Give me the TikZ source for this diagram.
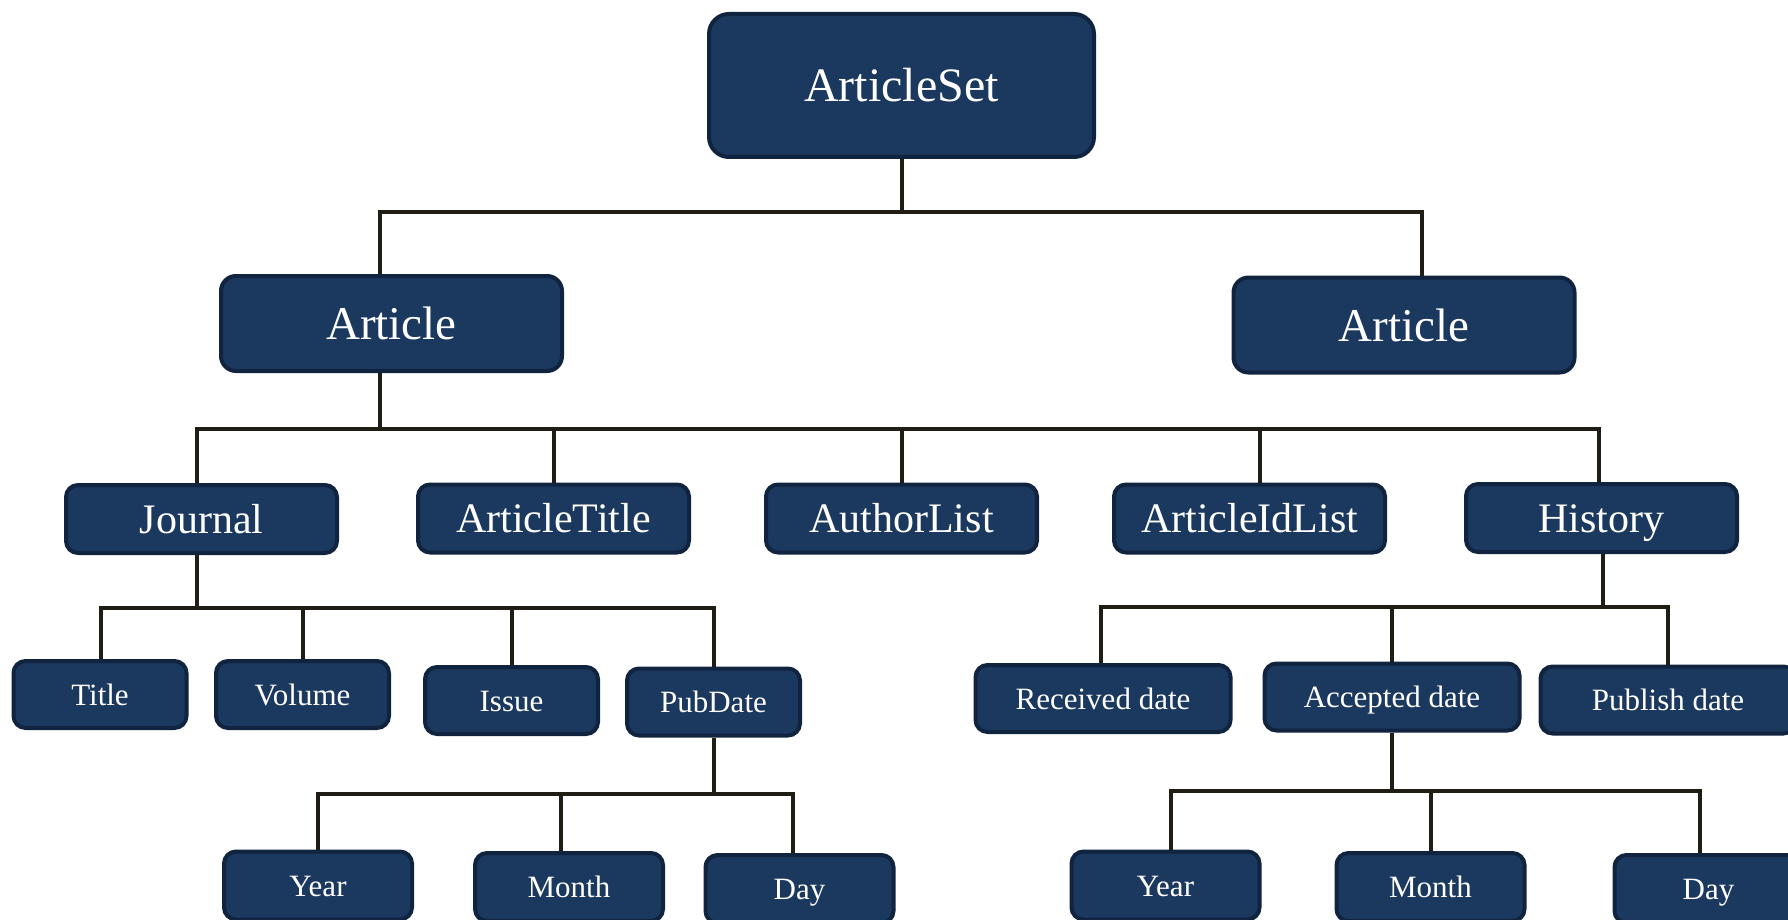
\documentclass[tikz,border=0pt]{standalone}
\usepackage{fontspec}
\setmainfont{Liberation Serif}

\definecolor{boxfill}{RGB}{27,56,94}
\definecolor{boxline}{RGB}{17,36,63}
\definecolor{linkcol}{RGB}{32,29,20}

\tikzset{
  box/.style={draw=boxline, fill=boxfill, line width=4pt, rounded corners=12pt, text=white, inner sep=0pt, text depth=0pt},
  topbox/.style={box, minimum width=385pt, minimum height=143pt, rounded corners=20pt, text height=32.6pt, font=\fontsize{48}{48}\selectfont},
  artbox/.style={box, minimum width=341pt, minimum height=95pt, rounded corners=15pt, text height=32pt, font=\fontsize{47}{47}\selectfont},
  midbox/.style={box, minimum width=271pt, minimum height=68pt, text height=28.6pt, font=\fontsize{42}{42}\selectfont},
  leafbox/.style={box, minimum width=173pt, minimum height=67pt, text height=21pt, font=\fontsize{31}{31}\selectfont},
  datebox/.style={leafbox, minimum width=255pt},
  ymdbox/.style={leafbox, minimum width=188pt, minimum height=68pt},
  link/.style={draw=linkcol, line width=4pt}
}

\begin{document}
\begin{tikzpicture}[x=1pt,y=-1pt]
        \useasboundingbox (0,0) rectangle (1788,920);

        % Root
        \node [topbox] (artset) at (901.5,85.5) {ArticleSet};
        % Articles
        \node [artbox] (artL) at (391.5,323.5) {Article};
        \node [artbox] (artR) at (1404,325) {Article};
        % Article children
        \node [midbox] (jrn) at (201.5,519) {Journal};
        \node [midbox] (atitle) at (553.5,518.5) {ArticleTitle};
        \node [midbox] (alist) at (901.5,518.5) {AuthorList};
        \node [midbox] (aidl) at (1249.5,518.5) {ArticleIdList};
        \node [midbox] (hist) at (1601.5,518) {History};
        % Journal children
        \node [leafbox] (title) at (100,694.5) {Title};
        \node [leafbox] (volume) at (302.5,694.5) {Volume};
        \node [leafbox] (issue) at (511.5,700.5) {Issue};
        \node [leafbox] (pubdate) at (713.5,702) {PubDate};
        % PubDate children
        \node [ymdbox] (yearL) at (318,885.5) {Year};
        \node [ymdbox] (monthL) at (569,887) {Month};
        \node [ymdbox] (dayL) at (799.5,889) {Day};
        % History children
        \node [datebox] (received) at (1103,698.5) {Received date};
        \node [datebox] (accepted) at (1392,697) {Accepted date};
        \node [datebox] (publish) at (1668,700) {Publish date};
        % Accepted date children
        \node [ymdbox] (yearR) at (1165.5,885.5) {Year};
        \node [ymdbox] (monthR) at (1430.5,887) {Month};
        \node [ymdbox] (dayR) at (1708.5,889) {Day};

        % Junctions
        \coordinate (j0) at (901.5,212);
        \coordinate (j1) at (380,429);
        \coordinate (j2) at (197,608);
        \coordinate (j3) at (713.5,794);
        \coordinate (j4) at (1603,607);
        \coordinate (j5) at (1392,791);

        % Links
        \draw [link] (artset.south) -- (j0) -| ([xshift=-11.5]artL.north);
        \draw [link] (j0) -| ([xshift=18]artR.north);

        \draw [link] ([xshift=-11.5]artL.south) -- (j1);
        \foreach \n/\dx in {jrn/-5, atitle/0, alist/0, aidl/10.5, hist/-2.5}
          \draw [link] (j1) -| ([xshift=\dx]\n.north);

        \draw [link] ([xshift=-4.5]jrn.south) -- (j2);
        \foreach \n/\dx in {title/1, volume/0, issue/0, pubdate/0}
          \draw [link] (j2) -| ([xshift=\dx]\n.north);

        \draw [link] (pubdate.south) -- (j3);
        \foreach \n/\dx in {yearL/0, monthL/-8, dayL/-6.5}
          \draw [link] (j3) -| ([xshift=\dx]\n.north);

        \draw [link] ([xshift=1.5]hist.south) -- (j4);
        \foreach \n/\dx in {received/-2, accepted/0, publish/0}
          \draw [link] (j4) -| ([xshift=\dx]\n.north);

        \draw [link] (accepted.south) -- (j5);
        \foreach \n/\dx in {yearR/5.5, monthR/0, dayR/-8.5}
          \draw [link] (j5) -| ([xshift=\dx]\n.north);

\end{tikzpicture}
\end{document}
